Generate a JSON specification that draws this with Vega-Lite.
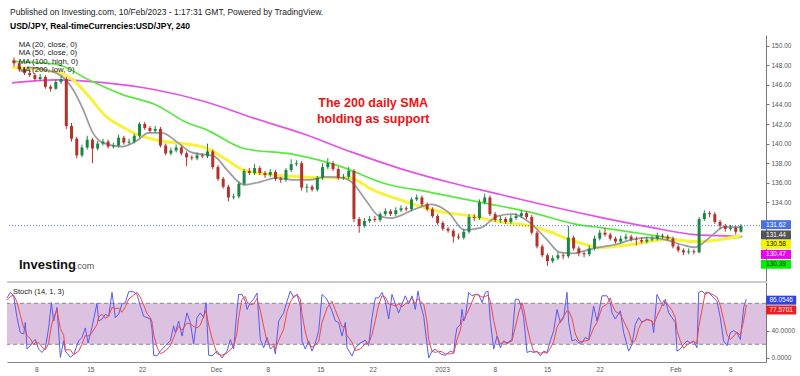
{
"$schema":"https://vega.github.io/schema/vega-lite/v6.json",
"padding":{"left":5,"top":8,"right":0,"bottom":0},
"title":{"text":"Published on Investing.com, 10/Feb/2023 - 1:17:31 GMT, Powered by TradingView.","subtitle":"USD/JPY, Real-timeCurrencies:USD/JPY, 240","anchor":"start","dx":5,"offset":5,"fontSize":8.5,"fontWeight":"normal","color":"#222","font":"Liberation Sans","subtitleFont":"Liberation Sans","subtitleFontSize":8.5,"subtitleFontWeight":"bold","subtitleColor":"#000","subtitlePadding":5},
"config":{"view":{"stroke":null},"font":"Liberation Sans","axis":{"labelFont":"Liberation Sans","grid":false,"title":null,"zindex":0}},
"spacing":0,
"datasets":{
"candles":[
{"t":0,"o":148.5,"h":148.8,"l":147.9,"c":148.2},{"t":1,"o":148.2,"h":148.4,"l":147.4,"c":147.6},{"t":2,"o":147.6,"h":147.8,"l":147.0,"c":147.2},{"t":3,"o":147.2,"h":147.5,"l":146.8,"c":147.0},{"t":4,"o":147.0,"h":147.2,"l":146.4,"c":146.6},{"t":5,"o":146.6,"h":147.1,"l":146.4,"c":146.8},{"t":6,"o":146.8,"h":147.0,"l":145.6,"c":145.8},{"t":7,"o":145.8,"h":146.0,"l":145.3,"c":145.6},{"t":8,"o":145.6,"h":146.5,"l":145.5,"c":146.3},{"t":9,"o":146.3,"h":146.9,"l":146.1,"c":146.6},
{"t":10,"o":146.6,"h":146.8,"l":141.5,"c":141.8},{"t":11,"o":141.8,"h":142.1,"l":140.2,"c":140.5},{"t":12,"o":140.5,"h":140.7,"l":138.5,"c":138.8},{"t":13,"o":138.8,"h":139.9,"l":138.6,"c":139.6},{"t":14,"o":139.6,"h":140.8,"l":139.4,"c":140.4},{"t":15,"o":140.4,"h":140.6,"l":138.0,"c":139.5},{"t":16,"o":139.5,"h":140.3,"l":139.3,"c":140.0},{"t":17,"o":140.0,"h":140.5,"l":139.8,"c":140.2},{"t":18,"o":140.2,"h":140.4,"l":139.5,"c":139.7},{"t":19,"o":139.7,"h":140.1,"l":139.5,"c":139.8},
{"t":20,"o":139.8,"h":140.9,"l":139.6,"c":140.6},{"t":21,"o":140.6,"h":140.8,"l":139.9,"c":140.1},{"t":22,"o":140.1,"h":140.5,"l":139.9,"c":140.2},{"t":23,"o":140.2,"h":141.0,"l":140.0,"c":140.8},{"t":24,"o":140.8,"h":142.2,"l":140.6,"c":142.0},{"t":25,"o":142.0,"h":142.2,"l":141.4,"c":141.6},{"t":26,"o":141.6,"h":141.8,"l":141.1,"c":141.3},{"t":27,"o":141.3,"h":141.8,"l":141.1,"c":141.5},{"t":28,"o":141.5,"h":141.7,"l":139.6,"c":139.8},{"t":29,"o":139.8,"h":140.0,"l":138.8,"c":139.0},
{"t":30,"o":139.0,"h":139.6,"l":138.8,"c":139.3},{"t":31,"o":139.3,"h":139.9,"l":139.1,"c":139.6},{"t":32,"o":139.6,"h":139.8,"l":138.8,"c":139.0},{"t":33,"o":139.0,"h":139.2,"l":137.7,"c":138.6},{"t":34,"o":138.6,"h":138.8,"l":138.3,"c":138.5},{"t":35,"o":138.5,"h":139.1,"l":138.3,"c":138.8},{"t":36,"o":138.8,"h":139.0,"l":138.5,"c":138.7},{"t":37,"o":138.7,"h":140.0,"l":138.5,"c":139.2},{"t":38,"o":139.2,"h":139.4,"l":137.4,"c":137.6},{"t":39,"o":137.6,"h":137.8,"l":136.2,"c":136.4},
{"t":40,"o":136.4,"h":136.6,"l":135.4,"c":135.6},{"t":41,"o":135.6,"h":135.8,"l":134.1,"c":134.5},{"t":42,"o":134.5,"h":134.9,"l":134.3,"c":134.6},{"t":43,"o":134.6,"h":136.1,"l":134.4,"c":135.9},{"t":44,"o":135.9,"h":137.4,"l":135.7,"c":137.2},{"t":45,"o":137.2,"h":137.5,"l":136.8,"c":137.0},{"t":46,"o":137.0,"h":137.9,"l":136.8,"c":137.5},{"t":47,"o":137.5,"h":137.7,"l":136.8,"c":137.0},{"t":48,"o":137.0,"h":137.2,"l":136.5,"c":136.8},{"t":49,"o":136.8,"h":137.4,"l":136.6,"c":137.1},
{"t":50,"o":137.1,"h":137.3,"l":136.2,"c":136.4},{"t":51,"o":136.4,"h":136.6,"l":136.0,"c":136.3},{"t":52,"o":136.3,"h":137.5,"l":136.1,"c":137.3},{"t":53,"o":137.3,"h":138.4,"l":137.1,"c":137.9},{"t":54,"o":137.9,"h":138.3,"l":137.7,"c":138.0},{"t":55,"o":138.0,"h":138.2,"l":135.2,"c":135.5},{"t":56,"o":135.5,"h":135.9,"l":135.0,"c":135.6},{"t":57,"o":135.6,"h":135.8,"l":135.1,"c":135.3},{"t":58,"o":135.3,"h":136.7,"l":135.1,"c":136.5},{"t":59,"o":136.5,"h":138.0,"l":136.3,"c":137.6},
{"t":60,"o":137.6,"h":138.5,"l":137.4,"c":138.0},{"t":61,"o":138.0,"h":138.2,"l":137.2,"c":137.4},{"t":62,"o":137.4,"h":137.6,"l":136.3,"c":136.5},{"t":63,"o":136.5,"h":136.9,"l":136.3,"c":136.6},{"t":64,"o":136.6,"h":137.6,"l":136.4,"c":137.2},{"t":65,"o":137.2,"h":137.4,"l":132.0,"c":132.3},{"t":66,"o":132.3,"h":132.5,"l":130.9,"c":131.6},{"t":67,"o":131.6,"h":132.4,"l":131.4,"c":132.1},{"t":68,"o":132.1,"h":132.6,"l":131.9,"c":132.3},{"t":69,"o":132.3,"h":132.6,"l":132.0,"c":132.2},
{"t":70,"o":132.2,"h":133.0,"l":132.0,"c":132.8},{"t":71,"o":132.8,"h":133.4,"l":132.6,"c":133.1},{"t":72,"o":133.1,"h":133.3,"l":132.6,"c":132.8},{"t":73,"o":132.8,"h":133.5,"l":132.6,"c":133.2},{"t":74,"o":133.2,"h":133.7,"l":133.0,"c":133.4},{"t":75,"o":133.4,"h":133.6,"l":133.1,"c":133.3},{"t":76,"o":133.3,"h":134.5,"l":133.1,"c":134.3},{"t":77,"o":134.3,"h":134.8,"l":134.1,"c":134.5},{"t":78,"o":134.5,"h":134.7,"l":133.6,"c":133.8},{"t":79,"o":133.8,"h":134.0,"l":133.1,"c":133.3},
{"t":80,"o":133.3,"h":133.5,"l":132.4,"c":132.6},{"t":81,"o":132.6,"h":132.8,"l":131.7,"c":131.9},{"t":82,"o":131.9,"h":132.1,"l":131.1,"c":131.3},{"t":83,"o":131.3,"h":131.5,"l":130.9,"c":131.1},{"t":84,"o":131.1,"h":131.3,"l":129.9,"c":130.5},{"t":85,"o":130.5,"h":130.8,"l":130.2,"c":130.4},{"t":86,"o":130.4,"h":131.3,"l":130.2,"c":131.0},{"t":87,"o":131.0,"h":132.8,"l":130.8,"c":132.5},{"t":88,"o":132.5,"h":132.8,"l":132.1,"c":132.4},{"t":89,"o":132.4,"h":134.3,"l":132.2,"c":134.0},
{"t":90,"o":134.0,"h":134.9,"l":133.8,"c":134.5},{"t":91,"o":134.5,"h":134.7,"l":132.6,"c":132.8},{"t":92,"o":132.8,"h":133.0,"l":132.0,"c":132.2},{"t":93,"o":132.2,"h":132.6,"l":131.9,"c":132.3},{"t":94,"o":132.3,"h":132.5,"l":131.8,"c":132.0},{"t":95,"o":132.0,"h":132.7,"l":131.8,"c":132.4},{"t":96,"o":132.4,"h":132.9,"l":132.2,"c":132.6},{"t":97,"o":132.6,"h":133.2,"l":132.4,"c":132.9},{"t":98,"o":132.9,"h":133.1,"l":132.3,"c":132.5},{"t":99,"o":132.5,"h":132.7,"l":130.7,"c":130.9},
{"t":100,"o":130.9,"h":131.1,"l":129.3,"c":129.5},{"t":101,"o":129.5,"h":129.7,"l":128.4,"c":128.6},{"t":102,"o":128.6,"h":128.8,"l":127.5,"c":128.0},{"t":103,"o":128.0,"h":128.6,"l":127.8,"c":128.3},{"t":104,"o":128.3,"h":128.9,"l":128.1,"c":128.6},{"t":105,"o":128.6,"h":128.8,"l":128.2,"c":128.5},{"t":106,"o":128.5,"h":131.6,"l":128.3,"c":130.4},{"t":107,"o":130.4,"h":130.6,"l":129.1,"c":129.3},{"t":108,"o":129.3,"h":129.5,"l":128.5,"c":128.8},{"t":109,"o":128.8,"h":129.0,"l":128.4,"c":128.7},
{"t":110,"o":128.7,"h":129.6,"l":128.5,"c":129.3},{"t":111,"o":129.3,"h":130.6,"l":129.1,"c":130.3},{"t":112,"o":130.3,"h":131.2,"l":130.1,"c":130.9},{"t":113,"o":130.9,"h":131.4,"l":130.5,"c":130.7},{"t":114,"o":130.7,"h":130.9,"l":130.1,"c":130.3},{"t":115,"o":130.3,"h":130.5,"l":129.8,"c":130.0},{"t":116,"o":130.0,"h":130.6,"l":129.8,"c":130.3},{"t":117,"o":130.3,"h":130.8,"l":130.1,"c":130.5},{"t":118,"o":130.5,"h":130.7,"l":130.0,"c":130.2},{"t":119,"o":130.2,"h":130.5,"l":129.6,"c":130.15},
{"t":120,"o":130.15,"h":130.4,"l":129.8,"c":130.0},{"t":121,"o":130.0,"h":130.5,"l":129.8,"c":130.2},{"t":122,"o":130.2,"h":130.6,"l":130.0,"c":130.3},{"t":123,"o":130.3,"h":130.9,"l":130.1,"c":130.6},{"t":124,"o":130.6,"h":130.8,"l":130.3,"c":130.5},{"t":125,"o":130.5,"h":130.7,"l":130.1,"c":130.3},{"t":126,"o":130.3,"h":130.5,"l":129.3,"c":129.5},{"t":127,"o":129.5,"h":129.7,"l":128.9,"c":129.1},{"t":128,"o":129.1,"h":129.3,"l":128.6,"c":128.9},{"t":129,"o":128.9,"h":129.3,"l":128.7,"c":129.0},
{"t":130,"o":129.0,"h":129.2,"l":128.7,"c":128.9},{"t":131,"o":128.9,"h":132.5,"l":128.8,"c":132.3},{"t":132,"o":132.3,"h":133.2,"l":132.1,"c":132.9},{"t":133,"o":132.9,"h":133.1,"l":132.5,"c":132.8},{"t":134,"o":132.8,"h":133.0,"l":131.8,"c":132.0},{"t":135,"o":132.0,"h":132.2,"l":131.3,"c":131.6},{"t":136,"o":131.6,"h":131.8,"l":131.0,"c":131.3},{"t":137,"o":131.3,"h":131.7,"l":131.1,"c":131.4},{"t":138,"o":131.4,"h":131.6,"l":130.7,"c":131.0},{"t":139,"o":131.0,"h":131.8,"l":130.9,"c":131.62}
],
"ma":[
{"s":"ma200","t":-0.38,"v":146.2},{"s":"ma200","t":8.11,"v":146.5},{"s":"ma200","t":17.55,"v":146.2},{"s":"ma200","t":26.98,"v":145.5},{"s":"ma200","t":36.42,"v":144.3},{"s":"ma200","t":45.85,"v":142.6},{"s":"ma200","t":55.28,"v":141.0},{"s":"ma200","t":64.72,"v":139.1},{"s":"ma200","t":74.15,"v":137.4},{"s":"ma200","t":83.58,"v":136.0},{"s":"ma200","t":93.02,"v":134.8},{"s":"ma200","t":102.45,"v":133.6},{"s":"ma200","t":111.89,"v":132.5},{"s":"ma200","t":121.32,"v":131.5},{"s":"ma200","t":130.19,"v":130.7},{"s":"ma200","t":134.53,"v":130.6},{"s":"ma200","t":139.25,"v":130.5},
{"s":"ma100","t":-0.38,"v":148.4},{"s":"ma100","t":8.11,"v":148.1},{"s":"ma100","t":14.34,"v":146.5},{"s":"ma100","t":20.75,"v":145.0},{"s":"ma100","t":26.98,"v":144.0},{"s":"ma100","t":33.21,"v":142.1},{"s":"ma100","t":36.42,"v":141.5},{"s":"ma100","t":43.96,"v":139.5},{"s":"ma100","t":53.4,"v":138.9},{"s":"ma100","t":62.83,"v":137.6},{"s":"ma100","t":70.38,"v":136.0},{"s":"ma100","t":79.81,"v":135.0},{"s":"ma100","t":89.25,"v":134.0},{"s":"ma100","t":98.68,"v":133.0},{"s":"ma100","t":108.11,"v":131.7},{"s":"ma100","t":112.45,"v":131.4},{"s":"ma100","t":118.87,"v":130.9},{"s":"ma100","t":125.09,"v":130.4},{"s":"ma100","t":130.19,"v":129.95},{"s":"ma100","t":134.53,"v":130.2},{"s":"ma100","t":139.0,"v":130.45},
{"s":"ma50","t":-0.38,"v":147.8},{"s":"ma50","t":8.11,"v":147.3},{"s":"ma50","t":11.32,"v":146.5},{"s":"ma50","t":14.34,"v":144.8},{"s":"ma50","t":17.55,"v":142.8},{"s":"ma50","t":20.75,"v":141.7},{"s":"ma50","t":23.77,"v":140.9},{"s":"ma50","t":26.98,"v":140.4},{"s":"ma50","t":36.42,"v":139.6},{"s":"ma50","t":40.19,"v":138.5},{"s":"ma50","t":43.96,"v":137.3},{"s":"ma50","t":49.62,"v":136.8},{"s":"ma50","t":55.28,"v":136.6},{"s":"ma50","t":64.15,"v":136.5},{"s":"ma50","t":68.49,"v":135.3},{"s":"ma50","t":74.72,"v":134.1},{"s":"ma50","t":81.13,"v":133.1},{"s":"ma50","t":87.36,"v":132.6},{"s":"ma50","t":93.02,"v":132.0},{"s":"ma50","t":98.68,"v":131.6},{"s":"ma50","t":102.45,"v":131.0},{"s":"ma50","t":105.66,"v":130.3},{"s":"ma50","t":108.68,"v":129.8},{"s":"ma50","t":111.89,"v":129.4},{"s":"ma50","t":118.11,"v":129.7},{"s":"ma50","t":124.53,"v":130.2},{"s":"ma50","t":130.75,"v":130.0},{"s":"ma50","t":139.0,"v":130.6},
{"s":"ma20","t":2.45,"v":147.8},{"s":"ma20","t":8.11,"v":147.2},{"s":"ma20","t":11.32,"v":145.5},{"s":"ma20","t":13.21,"v":143.5},{"s":"ma20","t":15.09,"v":141.1},{"s":"ma20","t":16.98,"v":140.1},{"s":"ma20","t":20.75,"v":139.7},{"s":"ma20","t":23.77,"v":140.4},{"s":"ma20","t":25.66,"v":141.1},{"s":"ma20","t":28.3,"v":141.1},{"s":"ma20","t":31.32,"v":140.1},{"s":"ma20","t":33.96,"v":139.1},{"s":"ma20","t":38.3,"v":138.7},{"s":"ma20","t":40.75,"v":137.3},{"s":"ma20","t":43.96,"v":135.8},{"s":"ma20","t":47.17,"v":136.1},{"s":"ma20","t":50.19,"v":136.5},{"s":"ma20","t":53.4,"v":136.3},{"s":"ma20","t":56.6,"v":136.3},{"s":"ma20","t":59.62,"v":136.6},{"s":"ma20","t":62.83,"v":136.5},{"s":"ma20","t":64.72,"v":136.0},{"s":"ma20","t":67.17,"v":134.3},{"s":"ma20","t":69.81,"v":132.6},{"s":"ma20","t":72.26,"v":132.4},{"s":"ma20","t":76.6,"v":133.3},{"s":"ma20","t":79.81,"v":133.8},{"s":"ma20","t":83.02,"v":133.0},{"s":"ma20","t":86.04,"v":131.2},{"s":"ma20","t":89.25,"v":131.4},{"s":"ma20","t":92.45,"v":132.6},{"s":"ma20","t":95.47,"v":132.8},{"s":"ma20","t":98.68,"v":131.9},{"s":"ma20","t":101.89,"v":130.2},{"s":"ma20","t":104.34,"v":128.9},{"s":"ma20","t":107.17,"v":128.8},{"s":"ma20","t":108.68,"v":129.0},{"s":"ma20","t":111.89,"v":129.4},{"s":"ma20","t":115.09,"v":129.7},{"s":"ma20","t":118.11,"v":130.2},{"s":"ma20","t":121.32,"v":130.4},{"s":"ma20","t":124.53,"v":130.2},{"s":"ma20","t":127.55,"v":129.7},{"s":"ma20","t":130.19,"v":129.4},{"s":"ma20","t":133.21,"v":130.5},{"s":"ma20","t":135.85,"v":131.5},{"s":"ma20","t":138.87,"v":131.45}
],
"stoch":[
{"t":-0.37,"k":88,"d":85},{"t":0.25,"k":96,"d":90},{"t":0.88,"k":91,"d":92},{"t":1.51,"k":59,"d":82},{"t":2.14,"k":37,"d":62},{"t":2.77,"k":35,"d":44},{"t":3.08,"k":52,"d":41},{"t":3.4,"k":13,"d":33},{"t":4.03,"k":18,"d":28},{"t":4.65,"k":25,"d":19},{"t":4.97,"k":27,"d":23},{"t":5.6,"k":13,"d":22},{"t":6.23,"k":8,"d":16},{"t":6.86,"k":15,"d":12},{"t":7.48,"k":44,"d":22},{"t":7.99,"k":81,"d":47},{"t":8.43,"k":54,"d":60},{"t":9.06,"k":74,"d":70},{"t":9.69,"k":1,"d":43},{"t":10.31,"k":25,"d":33},{"t":10.63,"k":10,"d":12},{"t":11.57,"k":1,"d":12},{"t":12.2,"k":5,"d":5},{"t":13.14,"k":25,"d":10},{"t":13.77,"k":30,"d":20},{"t":14.4,"k":44,"d":33},{"t":14.91,"k":22,"d":32},{"t":15.66,"k":45,"d":37},{"t":16.6,"k":80,"d":49},{"t":16.92,"k":54,"d":60},{"t":17.55,"k":57,"d":64},{"t":18.18,"k":64,"d":58},{"t":18.81,"k":61,"d":61},{"t":19.43,"k":96,"d":74},{"t":20.06,"k":59,"d":72},{"t":20.69,"k":64,"d":73},{"t":21.32,"k":79,"d":67},{"t":21.95,"k":81,"d":75},{"t":22.58,"k":97,"d":86},{"t":23.52,"k":97,"d":92},{"t":24.15,"k":93,"d":96},{"t":24.78,"k":76,"d":89},{"t":25.41,"k":61,"d":77},{"t":26.04,"k":59,"d":65},{"t":26.67,"k":57,"d":59},{"t":26.98,"k":42,"d":53},{"t":27.3,"k":4,"d":34},{"t":27.92,"k":3,"d":16},{"t":28.55,"k":10,"d":6},{"t":29.5,"k":18,"d":10},{"t":30.44,"k":25,"d":18},{"t":31.07,"k":47,"d":30},{"t":31.38,"k":37,"d":36},{"t":32.01,"k":54,"d":46},{"t":32.64,"k":32,"d":41},{"t":33.58,"k":66,"d":51},{"t":34.21,"k":52,"d":50},{"t":34.84,"k":20,"d":46},{"t":35.47,"k":59,"d":44},{"t":36.1,"k":66,"d":48},{"t":36.73,"k":59,"d":61},{"t":37.17,"k":81,"d":69},{"t":37.67,"k":4,"d":48},{"t":38.3,"k":3,"d":29},{"t":39.25,"k":10,"d":6},{"t":40.19,"k":0,"d":4},{"t":41.13,"k":10,"d":7},{"t":41.76,"k":27,"d":12},{"t":42.39,"k":13,"d":17},{"t":43.02,"k":71,"d":37},{"t":43.33,"k":93,"d":59},{"t":43.96,"k":93,"d":86},{"t":44.59,"k":83,"d":90},{"t":44.91,"k":71,"d":82},{"t":45.53,"k":81,"d":78},{"t":46.16,"k":86,"d":79},{"t":46.79,"k":95,"d":87},{"t":47.42,"k":27,"d":69},{"t":48.05,"k":15,"d":46},{"t":48.68,"k":30,"d":24},{"t":49.31,"k":13,"d":19},{"t":49.94,"k":18,"d":20},{"t":50.25,"k":6,"d":12},{"t":50.88,"k":54,"d":26},{"t":51.82,"k":66,"d":42},{"t":52.45,"k":83,"d":68},{"t":53.08,"k":98,"d":82},{"t":53.71,"k":88,"d":90},{"t":54.34,"k":93,"d":93},{"t":54.97,"k":76,"d":86},{"t":55.28,"k":25,"d":65},{"t":55.91,"k":13,"d":38},{"t":56.54,"k":25,"d":21},{"t":57.17,"k":10,"d":16},{"t":57.8,"k":22,"d":19},{"t":58.43,"k":40,"d":24},{"t":59.06,"k":93,"d":52},{"t":60.0,"k":86,"d":73},{"t":60.94,"k":69,"d":83},{"t":61.57,"k":54,"d":70},{"t":62.2,"k":52,"d":58},{"t":62.83,"k":32,"d":46},{"t":63.46,"k":52,"d":45},{"t":63.77,"k":15,"d":33},{"t":64.72,"k":3,"d":23},{"t":65.35,"k":15,"d":11},{"t":66.29,"k":22,"d":13},{"t":67.23,"k":26,"d":21},{"t":67.86,"k":18,"d":22},{"t":68.49,"k":59,"d":34},{"t":69.12,"k":88,"d":55},{"t":69.75,"k":88,"d":78},{"t":70.38,"k":96,"d":91},{"t":71.01,"k":83,"d":89},{"t":71.64,"k":57,"d":79},{"t":72.26,"k":93,"d":78},{"t":72.89,"k":79,"d":76},{"t":73.52,"k":66,"d":79},{"t":74.15,"k":79,"d":75},{"t":74.78,"k":91,"d":79},{"t":75.41,"k":79,"d":83},{"t":76.04,"k":91,"d":87},{"t":76.67,"k":71,"d":80},{"t":77.17,"k":98,"d":87},{"t":77.61,"k":79,"d":83},{"t":78.24,"k":61,"d":79},{"t":78.87,"k":20,"d":53},{"t":79.18,"k":0,"d":27},{"t":79.81,"k":10,"d":10},{"t":80.44,"k":13,"d":8},{"t":81.07,"k":8,"d":10},{"t":81.7,"k":5,"d":9},{"t":82.33,"k":4,"d":6},{"t":83.27,"k":10,"d":6},{"t":83.9,"k":8,"d":7},{"t":84.21,"k":30,"d":16},{"t":84.53,"k":44,"d":27},{"t":85.16,"k":49,"d":41},{"t":85.47,"k":71,"d":55},{"t":85.79,"k":54,"d":58},{"t":86.1,"k":59,"d":61},{"t":86.73,"k":96,"d":70},{"t":87.36,"k":91,"d":82},{"t":87.99,"k":93,"d":93},{"t":88.62,"k":93,"d":92},{"t":89.25,"k":81,"d":89},{"t":89.87,"k":96,"d":90},{"t":90.38,"k":98,"d":92},{"t":90.82,"k":54,"d":83},{"t":91.45,"k":13,"d":55},{"t":92.08,"k":32,"d":33},{"t":92.7,"k":15,"d":20},{"t":93.33,"k":25,"d":24},{"t":93.96,"k":22,"d":21},{"t":94.91,"k":27,"d":25},{"t":95.53,"k":86,"d":45},{"t":96.16,"k":86,"d":66},{"t":96.79,"k":71,"d":81},{"t":97.11,"k":59,"d":72},{"t":97.74,"k":8,"d":46},{"t":98.36,"k":10,"d":26},{"t":98.99,"k":8,"d":9},{"t":99.62,"k":10,"d":9},{"t":100.25,"k":3,"d":7},{"t":100.88,"k":10,"d":8},{"t":101.51,"k":8,"d":7},{"t":102.14,"k":25,"d":14},{"t":102.77,"k":40,"d":24},{"t":103.4,"k":71,"d":45},{"t":104.03,"k":52,"d":54},{"t":104.65,"k":59,"d":61},{"t":105.28,"k":96,"d":69},{"t":105.6,"k":52,"d":69},{"t":106.23,"k":25,"d":58},{"t":106.86,"k":27,"d":35},{"t":107.48,"k":22,"d":25},{"t":108.11,"k":22,"d":24},{"t":108.74,"k":30,"d":25},{"t":109.37,"k":27,"d":26},{"t":110.31,"k":76,"d":44},{"t":110.94,"k":54,"d":52},{"t":111.89,"k":91,"d":74},{"t":112.83,"k":91,"d":79},{"t":113.46,"k":81,"d":88},{"t":113.77,"k":66,"d":79},{"t":114.4,"k":57,"d":68},{"t":115.35,"k":69,"d":64},{"t":115.97,"k":37,"d":54},{"t":116.92,"k":10,"d":39},{"t":117.55,"k":20,"d":22},{"t":118.18,"k":49,"d":26},{"t":118.81,"k":59,"d":43},{"t":119.43,"k":52,"d":53},{"t":120.38,"k":57,"d":56},{"t":121.32,"k":54,"d":54},{"t":121.64,"k":37,"d":49},{"t":122.26,"k":93,"d":61},{"t":122.89,"k":83,"d":71},{"t":123.52,"k":76,"d":84},{"t":123.84,"k":86,"d":82},{"t":124.47,"k":66,"d":76},{"t":125.09,"k":59,"d":70},{"t":125.72,"k":52,"d":59},{"t":126.04,"k":10,"d":40},{"t":126.67,"k":13,"d":25},{"t":127.3,"k":20,"d":14},{"t":127.92,"k":25,"d":19},{"t":128.55,"k":22,"d":22},{"t":129.18,"k":25,"d":24},{"t":129.81,"k":15,"d":21},{"t":130.13,"k":96,"d":45},{"t":130.75,"k":98,"d":70},{"t":131.38,"k":93,"d":96},{"t":132.01,"k":96,"d":96},{"t":132.96,"k":88,"d":92},{"t":133.58,"k":83,"d":89},{"t":134.21,"k":59,"d":77},{"t":134.84,"k":25,"d":56},{"t":135.47,"k":18,"d":34},{"t":136.1,"k":37,"d":27},{"t":136.73,"k":40,"d":32},{"t":137.36,"k":37,"d":38},{"t":137.99,"k":27,"d":33},{"t":138.62,"k":74,"d":55},{"t":139.12,"k":86.0546,"d":77.5701}
],
"tags":[{"name":"close","v":131.62},{"name":"ma20","v":131.44},{"name":"ma50","v":130.58},{"name":"ma200","v":130.47},{"name":"ma100","v":130.39}],
"stags":[{"name":"k","v":86.0546},{"name":"d","v":77.5701}]
},
"vconcat":[
{
"width":759,"height":246,
"encoding":{
"x":{"type":"quantitative","scale":{"domain":[-0.38,142.83],"nice":false,"zero":false},"axis":null},
"y":{"type":"quantitative","scale":{"domain":[125.97,151.09],"nice":false,"zero":false},"axis":{"orient":"right","values":[134,136,138,140,142,144,146,148,150],"format":".2f","labelFontSize":6.5,"labelColor":"#555","tickSize":3,"tickColor":"#777","domainColor":"#777","labelPadding":2}}
},
"layer":[
{"data":{"name":"ma"},"transform":[{"filter":"datum.s==='ma200'"}],"mark":{"type":"line","color":"#e552e5","strokeWidth":1.7,"interpolate":"monotone"},"encoding":{"x":{"field":"t"},"y":{"field":"v"}}},
{"data":{"name":"ma"},"transform":[{"filter":"datum.s==='ma100'"}],"mark":{"type":"line","color":"#55ea3c","strokeWidth":1.7,"interpolate":"monotone"},"encoding":{"x":{"field":"t"},"y":{"field":"v"}}},
{"data":{"name":"ma"},"transform":[{"filter":"datum.s==='ma50'"}],"mark":{"type":"line","color":"#f8f23a","strokeWidth":3,"interpolate":"monotone"},"encoding":{"x":{"field":"t"},"y":{"field":"v"}}},
{"data":{"name":"ma"},"transform":[{"filter":"datum.s==='ma20'"}],"mark":{"type":"line","color":"#9c9c9c","strokeWidth":1.7,"interpolate":"monotone"},"encoding":{"x":{"field":"t"},"y":{"field":"v"}}},
{"data":{"name":"candles"},"mark":{"type":"rule","strokeWidth":1},"encoding":{"x":{"field":"t"},"y":{"field":"l"},"y2":{"field":"h"},"color":{"condition":{"test":"datum.c >= datum.o","value":"#1d8647"},"value":"#b3322b"}}},
{"data":{"name":"candles"},"mark":{"type":"bar","width":3},"encoding":{"x":{"field":"t"},"y":{"field":"o"},"y2":{"field":"c"},"color":{"condition":{"test":"datum.c >= datum.o","value":"#1d8647"},"value":"#b3322b"}}},
{"data":{"values":[{}]},"mark":{"type":"rule","color":"#5a78e0","strokeDash":[1,2],"strokeWidth":1},"encoding":{"y":{"datum":131.62}}},
{"data":{"values":[{}]},"mark":{"type":"text","align":"left","baseline":"alphabetic","fontSize":7.8,"color":"#222","lineHeight":8.4},"encoding":{"x":{"datum":0.89},"y":{"datum":149.87},"text":{"value":["MA (20, close, 0)","MA (50, close, 0)","MA (100, high, 0)","MA (200, low, 0)"]}}},
{"data":{"values":[{}]},"mark":{"type":"text","align":"center","baseline":"alphabetic","fontSize":12.5,"fontWeight":"bold","color":"#ee1111","lineHeight":16},"encoding":{"x":{"datum":68.68},"y":{"datum":143.69},"text":{"value":["The 200 daily SMA","holding as support"]}}},
{"data":{"values":[{}]},"mark":{"type":"text","align":"left","baseline":"alphabetic","fontSize":13,"fontWeight":"bold","color":"#111","font":"Liberation Sans"},"encoding":{"x":{"datum":0.94},"y":{"datum":127.15},"text":{"value":"Investing"}}},
{"data":{"values":[{}]},"mark":{"type":"text","align":"left","baseline":"alphabetic","fontSize":9,"color":"#555"},"encoding":{"x":{"datum":11.6},"y":{"datum":127.15},"text":{"value":".com"}}},
{"data":{"name":"tags"},"transform":[{"filter":"datum.name==='close'"}],"layer":[
{"mark":{"type":"tick","orient":"horizontal","size":30,"thickness":9,"color":"#4b70e2","yOffset":-1,"opacity":1},"encoding":{"x":{"datum":145.7},"y":{"field":"v"}}},
{"mark":{"type":"text","fontSize":6.5,"color":"#fff","yOffset":-1,"baseline":"middle"},"encoding":{"x":{"datum":145.7},"y":{"field":"v"},"text":{"field":"v","format":".2f"}}}]},
{"data":{"name":"tags"},"transform":[{"filter":"datum.name==='ma20'"}],"layer":[
{"mark":{"type":"tick","orient":"horizontal","size":30,"thickness":9,"color":"#555555","yOffset":7.5,"opacity":1},"encoding":{"x":{"datum":145.7},"y":{"field":"v"}}},
{"mark":{"type":"text","fontSize":6.5,"color":"#fff","yOffset":7.5,"baseline":"middle"},"encoding":{"x":{"datum":145.7},"y":{"field":"v"},"text":{"field":"v","format":".2f"}}}]},
{"data":{"name":"tags"},"transform":[{"filter":"datum.name==='ma50'"}],"layer":[
{"mark":{"type":"tick","orient":"horizontal","size":30,"thickness":9,"color":"#f5f500","yOffset":8.5,"opacity":1},"encoding":{"x":{"datum":145.7},"y":{"field":"v"}}},
{"mark":{"type":"text","fontSize":6.5,"color":"#111","yOffset":8.5,"baseline":"middle"},"encoding":{"x":{"datum":145.7},"y":{"field":"v"},"text":{"field":"v","format":".2f"}}}]},
{"data":{"name":"tags"},"transform":[{"filter":"datum.name==='ma200'"}],"layer":[
{"mark":{"type":"tick","orient":"horizontal","size":30,"thickness":9,"color":"#f000f0","yOffset":17.5,"opacity":1},"encoding":{"x":{"datum":145.7},"y":{"field":"v"}}},
{"mark":{"type":"text","fontSize":6.5,"color":"#fff","yOffset":17.5,"baseline":"middle"},"encoding":{"x":{"datum":145.7},"y":{"field":"v"},"text":{"field":"v","format":".2f"}}}]},
{"data":{"name":"tags"},"transform":[{"filter":"datum.name==='ma100'"}],"layer":[
{"mark":{"type":"tick","orient":"horizontal","size":30,"thickness":9,"color":"#00ee00","yOffset":26.5,"opacity":1},"encoding":{"x":{"datum":145.7},"y":{"field":"v"}}},
{"mark":{"type":"text","fontSize":6.5,"color":"#111","yOffset":26.5,"baseline":"middle"},"encoding":{"x":{"datum":145.7},"y":{"field":"v"},"text":{"field":"v","format":".2f"}}}]}
]
},
{
"width":759,"height":80,
"encoding":{
"x":{"type":"quantitative","scale":{"domain":[-0.38,142.83],"nice":false,"zero":false},"axis":{"orient":"bottom","values":[5.15,15.34,25.09,39.06,48.81,58.74,68.62,81.7,91.64,101.51,111.45,125.72,136.09],"format":".2f","labelExpr":"{'5.15':'8','15.34':'15','25.09':'22','39.06':'Dec','48.81':'8','58.74':'15','68.62':'22','81.70':'2023','91.64':'8','101.51':'15','111.45':'22','125.72':'Feb','136.09':'8'}[datum.label]","ticks":false,"labelFontSize":6.5,"labelColor":"#555","domainColor":"#888","labelPadding":4}},
"y":{"type":"quantitative","scale":{"domain":[-5.9,111.2],"nice":false,"zero":false},"axis":{"orient":"right","values":[0,40],"format":".4f","labelFontSize":6.5,"labelColor":"#555","tickSize":3,"tickColor":"#777","domainColor":"#777","labelPadding":2}}
},
"layer":[
{"data":{"values":[{}]},"mark":{"type":"rect","color":"#dcc1e0"},"encoding":{"y":{"datum":20},"y2":{"datum":80}}},
{"data":{"values":[{}]},"mark":{"type":"rule","color":"#8a8a8a","strokeDash":[4,3],"strokeWidth":1},"encoding":{"y":{"datum":20}}},
{"data":{"values":[{}]},"mark":{"type":"rule","color":"#8a8a8a","strokeDash":[4,3],"strokeWidth":1},"encoding":{"y":{"datum":80}}},
{"data":{"values":[{}]},"mark":{"type":"rule","color":"#999","strokeWidth":1.2},"encoding":{"y":{"datum":111.2}}},
{"data":{"name":"stoch"},"mark":{"type":"line","color":"#5a5af2","strokeWidth":1},"encoding":{"x":{"field":"t"},"y":{"field":"k"}}},
{"data":{"name":"stoch"},"mark":{"type":"line","color":"#f04848","strokeWidth":1},"encoding":{"x":{"field":"t"},"y":{"field":"d"}}},
{"data":{"values":[{}]},"mark":{"type":"text","align":"left","baseline":"middle","fontSize":7.5,"color":"#222"},"encoding":{"x":{"datum":0.75},"y":{"datum":96.5},"text":{"value":"Stoch (14, 1, 3)"}}},
{"data":{"name":"stags"},"transform":[{"filter":"datum.name==='k'"}],"layer":[
{"mark":{"type":"tick","orient":"horizontal","size":30,"thickness":9,"color":"#2a44e8","yOffset":1,"opacity":1},"encoding":{"x":{"datum":145.7},"y":{"field":"v"}}},
{"mark":{"type":"text","fontSize":6.5,"color":"#fff","yOffset":1,"baseline":"middle"},"encoding":{"x":{"datum":145.7},"y":{"field":"v"},"text":{"field":"v","format":".4f"}}}]},
{"data":{"name":"stags"},"transform":[{"filter":"datum.name==='d'"}],"layer":[
{"mark":{"type":"tick","orient":"horizontal","size":30,"thickness":9,"color":"#ee1c1c","yOffset":5,"opacity":1},"encoding":{"x":{"datum":145.7},"y":{"field":"v"}}},
{"mark":{"type":"text","fontSize":6.5,"color":"#fff","yOffset":5,"baseline":"middle"},"encoding":{"x":{"datum":145.7},"y":{"field":"v"},"text":{"field":"v","format":".4f"}}}]}
]
}
]
}
